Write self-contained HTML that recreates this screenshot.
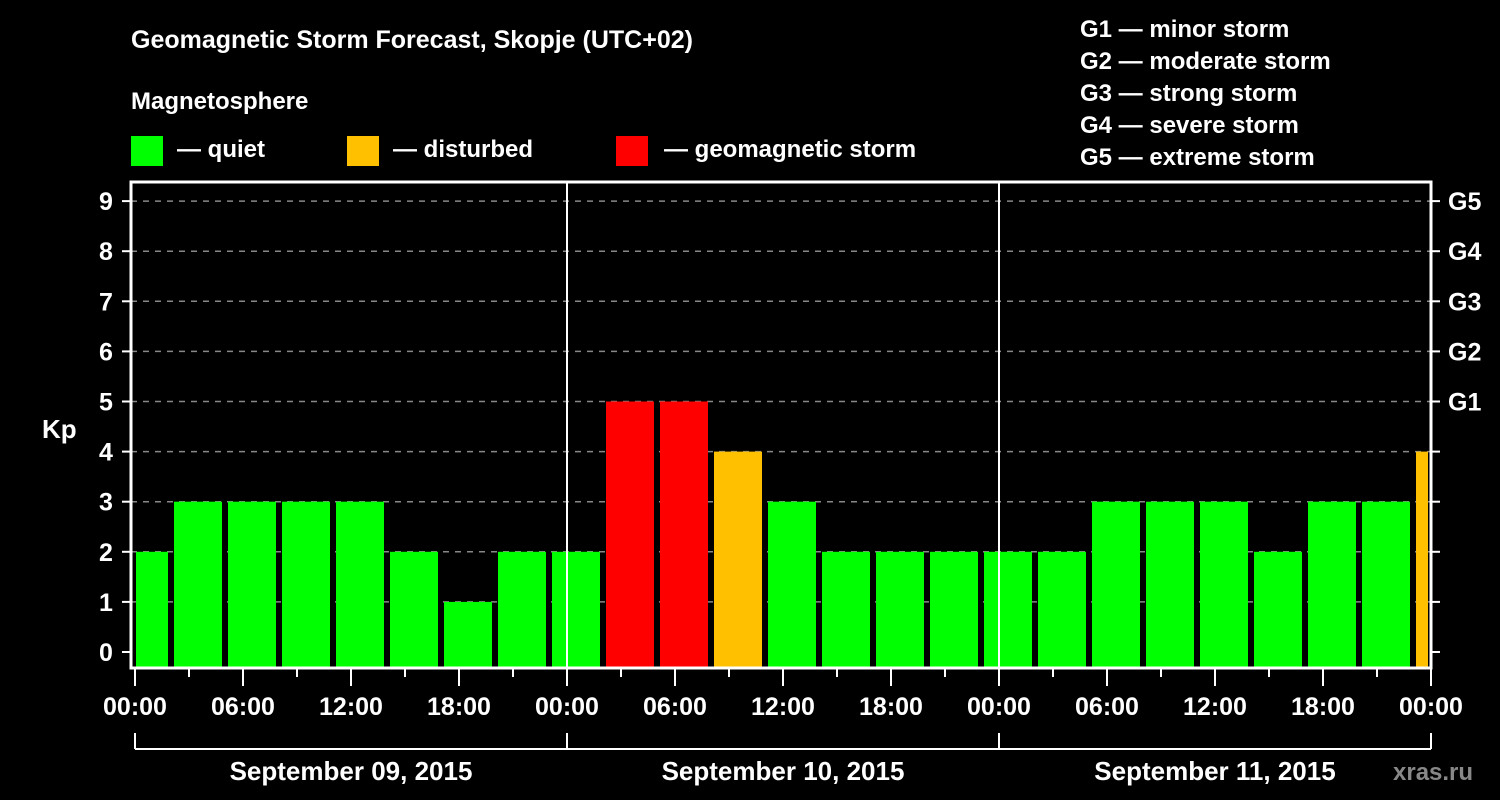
<!DOCTYPE html>
<html><head><meta charset="utf-8"><style>
body{margin:0;background:#000;width:1500px;height:800px;overflow:hidden}
svg{display:block;font-family:"Liberation Sans",sans-serif;font-weight:bold}
</style></head><body>
<svg id="chart" width="1500" height="800">
<rect width="1500" height="800" fill="#000"/>
<text x="131" y="48" fill="#fff" font-size="25">Geomagnetic Storm Forecast, Skopje (UTC+02)</text>
<text x="131" y="109" fill="#fff" font-size="24">Magnetosphere</text>
<g><rect x="131" y="136" width="32" height="30" fill="#00ff00"/><text x="177" y="157" fill="#fff" font-size="24">— quiet</text></g>
<g><rect x="347" y="136" width="32" height="30" fill="#ffc000"/><text x="393" y="157" fill="#fff" font-size="24">— disturbed</text></g>
<g><rect x="616" y="136" width="32" height="30" fill="#ff0000"/><text x="664" y="157" fill="#fff" font-size="24">— geomagnetic storm</text></g>
<g fill="#fff" font-size="24">
<text x="1080" y="37">G1 — minor storm</text>
<text x="1080" y="69">G2 — moderate storm</text>
<text x="1080" y="101">G3 — strong storm</text>
<text x="1080" y="133">G4 — severe storm</text>
<text x="1080" y="165">G5 — extreme storm</text>
</g>
<text x="42" y="438" fill="#fff" font-size="26">Kp</text>
<text x="1393" y="780" fill="#888" font-size="24">xras.ru</text>
<g id="grid"></g><g id="bars"></g><g id="axes"></g>
</svg>
<script>
const kpValues=[2,3,3,3,3,2,1,2,2,5,5,4,3,2,2,2,2,2,3,3,3,2,3,3,4];
const yTicks=[0,1,2,3,4,5,6,7,8,9];
const gLabels=["G1","G2","G3","G4","G5"];
const xTickLabels=["00:00","06:00","12:00","18:00","00:00","06:00","12:00","18:00","00:00","06:00","12:00","18:00","00:00"];
const dayLabels=["September 09, 2015","September 10, 2015","September 11, 2015"];
const NS="http://www.w3.org/2000/svg";
const X0=135,PXH=18,L=131,R=1431,T=182,B=668;
const xs=h=>X0+h*PXH;
const ys=v=>652-v*50.1;
function mk(tag,attrs,parent,text){const e=document.createElementNS(NS,tag);for(const k in attrs)e.setAttribute(k,attrs[k]);if(text!==undefined)e.textContent=text;parent.appendChild(e);return e;}
const grid=document.getElementById('grid'),bars=document.getElementById('bars'),axes=document.getElementById('axes');
yTicks.forEach(v=>{if(v>0){const l=mk('line',{x1:L,x2:R,y1:ys(v),y2:ys(v),stroke:'#888','stroke-width':1.5,'stroke-dasharray':'6 6'},grid);

}});
kpValues.forEach((v,i)=>{const c=0.5+3*i;let a=xs(c)-24,b=xs(c)+24;a=Math.max(a,L+5);b=Math.min(b,R-3);
const col=v>=5?'#ff0000':(v>=4?'#ffc000':'#00ff00');
const r=mk('rect',{x:a,y:ys(v),width:b-a,height:B-ys(v),fill:col},bars);

});
[xs(24),xs(48)].forEach(x=>{const l=mk('line',{x1:x,x2:x,y1:T,y2:B,stroke:'#fff','stroke-width':2},axes);

});
const fr=mk('rect',{x:L,y:T,width:R-L,height:B-T,fill:'none',stroke:'#fff','stroke-width':3},axes);


yTicks.forEach(v=>{mk('line',{x1:L-9,x2:L,y1:ys(v),y2:ys(v),stroke:'#fff','stroke-width':2},axes);
mk('line',{x1:R,x2:R+9,y1:ys(v),y2:ys(v),stroke:'#fff','stroke-width':2},axes);
const t=mk('text',{x:106,y:ys(v)+9,fill:'#fff','font-size':25,'text-anchor':'middle'},axes,String(v));

});
gLabels.forEach((g,i)=>{const t=mk('text',{x:1448,y:ys(5+i)+9,fill:'#fff','font-size':25},axes,g);

});
for(let h=0;h<=72;h+=3){const big=h%6===0;mk('line',{x1:xs(h),x2:xs(h),y1:B,y2:B+(big?18:9),stroke:'#fff','stroke-width':2},axes);}
xTickLabels.forEach((s,i)=>{const t=mk('text',{x:xs(i*6),y:715,fill:'#fff','font-size':25,'text-anchor':'middle'},axes,s);

});
mk('line',{x1:xs(0),x2:xs(72),y1:749,y2:749,stroke:'#fff','stroke-width':2},axes);
[0,24,48,72].forEach(h=>mk('line',{x1:xs(h),x2:xs(h),y1:733,y2:749,stroke:'#fff','stroke-width':2},axes));
dayLabels.forEach((s,i)=>{const t=mk('text',{x:xs(12+24*i),y:780,fill:'#fff','font-size':26,'text-anchor':'middle'},axes,s);

});
</script>
</body></html>
